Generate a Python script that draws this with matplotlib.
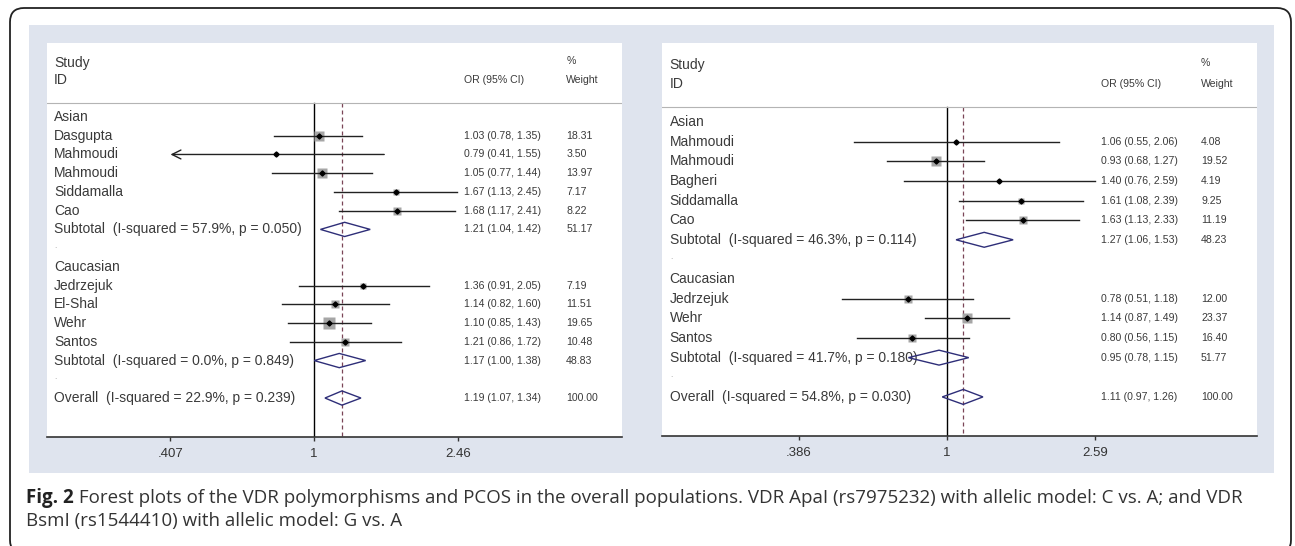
import matplotlib
matplotlib.use("Agg")
import matplotlib.pyplot as plt
import numpy as np
from matplotlib.patches import Rectangle, FancyBboxPatch, Polygon
from matplotlib.transforms import IdentityTransform, blended_transform_factory
from matplotlib.ticker import NullLocator, FixedLocator, FixedFormatter

plt.rcParams['font.family'] = ['Liberation Sans', 'DejaVu Sans']

# ---- data: left panel (VDR ApaI, C vs. A) ----
left_groups = ["Asian", "Caucasian"]
left_studies = [["Dasgupta", "Mahmoudi", "Mahmoudi", "Siddamalla", "Cao"],
                ["Jedrzejuk", "El-Shal", "Wehr", "Santos"]]
left_or = [[1.03, 0.79, 1.05, 1.67, 1.68], [1.36, 1.14, 1.10, 1.21]]
left_lo = [[0.78, 0.41, 0.77, 1.13, 1.17], [0.91, 0.82, 0.85, 0.86]]
left_hi = [[1.35, 1.55, 1.44, 2.45, 2.41], [2.05, 1.60, 1.43, 1.72]]
left_w = [[18.31, 3.50, 13.97, 7.17, 8.22], [7.19, 11.51, 19.65, 10.48]]
left_sub_or = [1.21, 1.17]
left_sub_lo = [1.04, 1.00]
left_sub_hi = [1.42, 1.38]
left_sub_w = [51.17, 48.83]
left_sub_het = ["I-squared = 57.9%, p = 0.050", "I-squared = 0.0%, p = 0.849"]
left_all = [1.19, 1.07, 1.34, 100.00]
left_all_het = "I-squared = 22.9%, p = 0.239"
left_ticks = [0.407, 1, 2.46]
left_ticklabels = [".407", "1", "2.46"]

# ---- data: right panel (VDR BsmI, G vs. A) ----
right_groups = ["Asian", "Caucasian"]
right_studies = [["Mahmoudi", "Mahmoudi", "Bagheri", "Siddamalla", "Cao"],
                 ["Jedrzejuk", "Wehr", "Santos"]]
right_or = [[1.06, 0.93, 1.40, 1.61, 1.63], [0.78, 1.14, 0.80]]
right_lo = [[0.55, 0.68, 0.76, 1.08, 1.13], [0.51, 0.87, 0.56]]
right_hi = [[2.06, 1.27, 2.59, 2.39, 2.33], [1.18, 1.49, 1.15]]
right_w = [[4.08, 19.52, 4.19, 9.25, 11.19], [12.00, 23.37, 16.40]]
right_sub_or = [1.27, 0.95]
right_sub_lo = [1.06, 0.78]
right_sub_hi = [1.53, 1.15]
right_sub_w = [48.23, 51.77]
right_sub_het = ["I-squared = 46.3%, p = 0.114", "I-squared = 41.7%, p = 0.180"]
right_all = [1.11, 0.97, 1.26, 100.00]
right_all_het = "I-squared = 54.8%, p = 0.030"
right_ticks = [0.386, 1, 2.59]
right_ticklabels = [".386", "1", "2.59"]

caption_bold = "Fig. 2"
caption_line1 = (" Forest plots of the VDR polymorphisms and PCOS in the overall populations. "
                 "VDR ApaI (rs7975232) with allelic model: C vs. A; and VDR")
caption_line2 = "BsmI (rs1544410) with allelic model: G vs. A"

W, H = 1295, 546
fig = plt.figure(figsize=(W / 100, H / 100), dpi=100)
fig.patch.set_facecolor("white")

# outer rounded frame and light panel behind both plots
frame = FancyBboxPatch((10, -8), 1281, 546, boxstyle="round,pad=0,rounding_size=14",
                       transform=IdentityTransform(), facecolor="none", edgecolor="#222222",
                       lw=1.3, zorder=-2)
fig.patches.append(frame)
fig.patches.append(Rectangle((29, H - 473), 1245, 448, transform=IdentityTransform(),
                             facecolor="#dfe4ee", edgecolor="none", zorder=-1))

TXT = "#3a3a3a"
DIA = "#2e2e78"


def forest(rect, groups, studies, ors, los, his, ws, s_or, s_lo, s_hi, s_w, s_het,
           overall, o_het, ticks, ticklabels, ylim, xlim, cols, box_k):
    ax = fig.add_axes(rect)
    ax.set_facecolor("white")
    ax.set_xscale("log")
    ax.set_xlim(*xlim)
    ax.set_ylim(*ylim)
    tr = blended_transform_factory(ax.transAxes, ax.transData)
    x_lab, x_or, x_w = cols

    # header
    ax.text(x_lab, -2.9, "Study", transform=tr, fontsize=10, color=TXT, va="center")
    ax.text(x_lab, -1.95, "ID", transform=tr, fontsize=10, color=TXT, va="center")
    ax.text(x_or, -1.95, "OR (95% CI)", transform=tr, fontsize=7.6, color=TXT, va="center")
    ax.text(x_w, -3.0, "%", transform=tr, fontsize=7.6, color=TXT, va="center")
    ax.text(x_w, -1.95, "Weight", transform=tr, fontsize=7.6, color=TXT, va="center")
    ax.axhline(-0.75, color="#b4b4b4", lw=0.8)

    def numbers(y, o, l, h, w):
        ax.text(x_or, y, f"{o:.2f} ({l:.2f}, {h:.2f})", transform=tr, fontsize=7.6,
                color=TXT, va="center")
        ax.text(x_w, y, f"{w:.2f}", transform=tr, fontsize=7.6, color=TXT, va="center")

    def diamond(y, o, l, h):
        hh = 0.38
        ax.add_patch(Polygon([(l, y), (o, y - hh), (h, y), (o, y + hh)], closed=True,
                             fill=False, edgecolor=DIA, lw=1.0, zorder=4))

    row = 0
    for g in range(len(groups)):
        ax.text(x_lab, row, groups[g], transform=tr, fontsize=10, color=TXT, va="center")
        row += 1
        for i in range(len(studies[g])):
            o, l, h, w = ors[g][i], los[g][i], his[g][i], ws[g][i]
            ax.text(x_lab, row, studies[g][i], transform=tr, fontsize=10, color=TXT, va="center")
            ax.plot(o, row, marker="s", ms=box_k * np.sqrt(w), color="#a6a6a6", mec="none", zorder=2)
            # CI running past the lowest axis tick is cut there and drawn as an arrow
            if l < ticks[0] * 1.02:
                ax.annotate("", xy=(ticks[0], row), xytext=(h, row),
                            arrowprops=dict(arrowstyle="->", color="#222222", lw=1.0,
                                            shrinkA=0, shrinkB=0, mutation_scale=16), zorder=3)
            else:
                ax.plot([l, h], [row, row], color="#222222", lw=1.0, zorder=3)
            ax.plot(o, row, marker="D", ms=2.6, color="black", zorder=5)
            numbers(row, o, l, h, w)
            row += 1
        ax.text(x_lab, row, f"Subtotal  ({s_het[g]})", transform=tr, fontsize=10,
                color=TXT, va="center")
        diamond(row, s_or[g], s_lo[g], s_hi[g])
        numbers(row, s_or[g], s_lo[g], s_hi[g], s_w[g])
        row += 1
        ax.text(x_lab, row - 0.1, ".", transform=tr, fontsize=6, color="#9a9a9a", va="center")
        row += 1
    ax.text(x_lab, row, f"Overall  ({o_het})", transform=tr, fontsize=10, color=TXT, va="center")
    diamond(row, overall[0], overall[1], overall[2])
    numbers(row, *overall)

    # no-effect line and overall estimate line
    ax.plot([1, 1], [-0.75, ylim[0]], color="black", lw=1.0, zorder=1)
    ax.plot([overall[0], overall[0]], [-0.75, ylim[0]], color="#7a4557", lw=0.9,
            dashes=(3.2, 2.4), zorder=1)

    for s in ["top", "left", "right"]:
        ax.spines[s].set_visible(False)
    ax.spines["bottom"].set_color("#333333")
    ax.spines["bottom"].set_linewidth(1.2)
    ax.xaxis.set_major_locator(FixedLocator(ticks))
    ax.xaxis.set_major_formatter(FixedFormatter(ticklabels))
    ax.xaxis.set_minor_locator(NullLocator())
    ax.tick_params(axis="x", direction="out", length=3, width=1, color="#333333",
                   labelsize=9.5, labelcolor="#333333", pad=5)
    ax.set_yticks([])
    return ax


forest([47 / W, 1 - 437 / H, 575 / W, 394 / H], left_groups, left_studies, left_or, left_lo,
       left_hi, left_w, left_sub_or, left_sub_lo, left_sub_hi, left_sub_w, left_sub_het,
       left_all, left_all_het, left_ticks, left_ticklabels, (17.08, -3.95), (0.188, 6.86),
       (0.012, 0.725, 0.903), 1.8)
forest([662 / W, 1 - 436 / H, 595 / W, 393 / H], right_groups, right_studies, right_or, right_lo,
       right_hi, right_w, right_sub_or, right_sub_lo, right_sub_hi, right_sub_w, right_sub_het,
       right_all, right_all_het, right_ticks, right_ticklabels, (15.99, -4.02), (0.160, 7.34),
       (0.013, 0.738, 0.906), 1.6)

# caption
cap_font = ["Open Sans", "DejaVu Sans"]
r = fig.canvas.get_renderer()
tb = fig.text(26 / W, 1 - 503 / H, caption_bold, fontsize=11, fontweight="bold",
              family=cap_font, color="#222222", va="baseline")
bb = tb.get_window_extent(r)
t1 = fig.text(bb.x1 / W, 1 - 503 / H, caption_line1, fontsize=11, family=cap_font,
              color="#333333", va="baseline")
# fit the caption to the reference line width
width = t1.get_window_extent(r).x1 - 26
scale = (1240 - 26) / width
for t in (tb, t1):
    t.set_fontsize(11 * scale)
bb = tb.get_window_extent(r)
t1.set_x(bb.x1 / W)
fig.text(26 / W, 1 - 526 / H, caption_line2, fontsize=11 * scale, family=cap_font,
         color="#333333", va="baseline")

fig.savefig("out.png", dpi=100)
